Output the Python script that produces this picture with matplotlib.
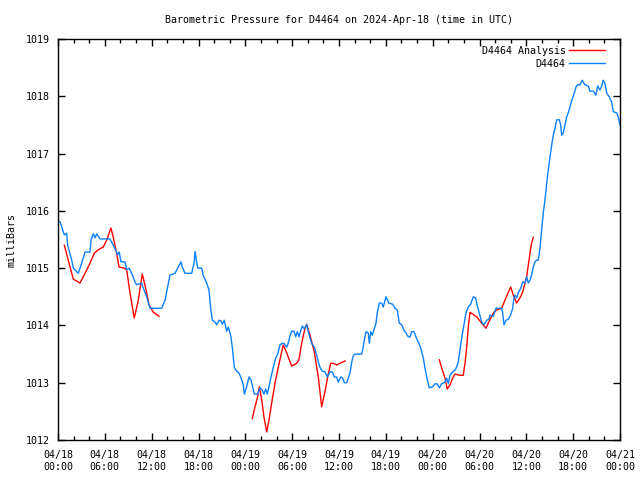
import matplotlib
matplotlib.use("Agg")
import matplotlib.pyplot as plt
import numpy as np

# hours since 2024-04-18 00:00 UTC, pressure in mb
obs_hours = [0.0, 0.26, 0.81, 1.11, 1.24, 1.76, 1.96, 2.60, 2.82, 3.46, 4.10, 4.23, 4.52, 4.74, 4.96,
             5.38, 6.66, 7.08, 7.52, 7.60, 7.85, 8.07, 8.58, 8.80, 9.10, 9.44, 9.86, 10.08, 10.72,
             10.93, 11.36, 11.79, 13.28, 13.71, 14.35, 14.99, 15.33, 15.76, 15.92, 16.27, 17.13,
             17.46, 17.55, 17.90, 18.41, 18.58, 19.05, 19.34, 19.56, 19.77, 20.11, 20.33, 20.63,
             20.88, 21.05, 21.30, 21.61, 21.82, 22.12, 22.33, 22.59, 22.89, 23.19, 23.41, 23.74,
             23.87, 24.17, 24.47, 24.72, 24.94, 25.15, 25.58, 25.88, 26.17, 26.39, 26.61, 26.81,
             27.03, 27.29, 27.58, 27.89, 28.15, 28.44, 28.73, 28.99, 29.30, 29.50, 29.72, 29.94,
             30.23, 30.45, 30.66, 30.87, 31.13, 31.30, 31.55, 31.86, 32.07, 32.28, 32.50, 32.83,
             33.14, 33.35, 33.56, 33.86, 34.20, 34.50, 34.85, 35.14, 35.40, 35.70, 35.91, 36.22,
             36.47, 36.68, 36.98, 37.19, 37.41, 37.63, 37.83, 38.05, 38.91, 39.03, 39.20, 39.46,
             39.75, 39.88, 40.06, 40.26, 40.52, 40.74, 40.90, 41.16, 41.47, 41.67, 42.02, 42.40,
             42.88, 43.17, 43.47, 43.72, 44.03, 44.32, 44.58, 44.88, 45.09, 45.31, 45.61, 45.86,
             46.16, 46.46, 46.80, 47.01, 47.31, 47.57, 48.00, 48.30, 48.59, 48.85, 49.15, 49.58,
             49.79, 50.00, 50.22, 50.56, 50.86, 51.06, 51.28, 51.50, 51.72, 52.01, 52.27, 52.56,
             52.87, 53.20, 53.51, 53.72, 53.97, 54.28, 54.57, 54.92, 55.21, 55.34, 55.77, 56.11,
             56.84, 56.97, 57.14, 57.39, 57.69, 57.99, 58.25, 58.42, 58.55, 58.76, 58.97, 59.28,
             59.53, 59.83, 60.04, 60.25, 60.47, 60.68, 60.89, 61.11, 61.33, 61.53, 61.75, 61.96,
             62.17, 62.39, 62.61, 62.81, 63.03, 63.25, 63.45, 63.67, 63.89, 64.22, 64.40, 64.53,
             64.73, 64.95, 65.17, 65.37, 65.59, 65.81, 66.01, 66.36, 66.53, 66.87, 67.16, 67.51,
             67.93, 68.15, 68.58, 68.92, 69.14, 69.43, 69.65, 69.85, 70.07, 70.29, 70.62, 70.93,
             71.14, 71.57, 71.78, 72.00]
obs_mb = [1015.81, 1015.81, 1015.58, 1015.61, 1015.40, 1015.14, 1015.00, 1014.91, 1015.00, 1015.28,
          1015.28, 1015.49, 1015.60, 1015.53, 1015.60, 1015.51, 1015.51, 1015.40, 1015.28, 1015.23,
          1015.28, 1015.11, 1015.11, 1014.97, 1015.00, 1014.91, 1014.76, 1014.71, 1014.74, 1014.65,
          1014.50, 1014.30, 1014.30, 1014.44, 1014.88, 1014.91, 1015.00, 1015.11, 1015.02, 1014.91,
          1014.91, 1015.11, 1015.29, 1015.00, 1015.00, 1014.88, 1014.74, 1014.62, 1014.30, 1014.09,
          1014.06, 1014.01, 1014.09, 1014.08, 1014.02, 1014.09, 1013.90, 1013.97, 1013.83, 1013.62,
          1013.27, 1013.20, 1013.17, 1013.10, 1012.96, 1012.80, 1012.93, 1013.10, 1013.05, 1012.93,
          1012.80, 1012.80, 1012.91, 1012.87, 1012.80, 1012.89, 1012.80, 1012.93, 1013.10, 1013.27,
          1013.43, 1013.50, 1013.66, 1013.69, 1013.68, 1013.62, 1013.69, 1013.82, 1013.90, 1013.90,
          1013.80, 1013.89, 1013.80, 1013.92, 1013.99, 1013.94, 1014.01, 1013.89, 1013.78, 1013.69,
          1013.62, 1013.48, 1013.36, 1013.27, 1013.20, 1013.19, 1013.10, 1013.19, 1013.19, 1013.10,
          1013.10, 1013.01, 1013.10, 1013.08, 1013.00, 1013.00, 1013.08, 1013.17, 1013.36, 1013.47,
          1013.50, 1013.50, 1013.57, 1013.71, 1013.89, 1013.87, 1013.69, 1013.89, 1013.83, 1013.94,
          1014.04, 1014.22, 1014.39, 1014.39, 1014.32, 1014.50, 1014.39, 1014.37, 1014.30, 1014.27,
          1014.04, 1014.01, 1013.92, 1013.87, 1013.80, 1013.80, 1013.89, 1013.89, 1013.80, 1013.71,
          1013.61, 1013.43, 1013.26, 1013.05, 1012.91, 1012.93, 1012.98, 1012.98, 1012.91, 1012.98,
          1013.01, 1013.08, 1012.99, 1013.13, 1013.19, 1013.22, 1013.27, 1013.36, 1013.57, 1013.78,
          1014.01, 1014.22, 1014.32, 1014.37, 1014.50, 1014.48, 1014.34, 1014.22, 1014.06, 1014.01,
          1014.09, 1014.11, 1014.18, 1014.16, 1014.30, 1014.30, 1014.22, 1014.01, 1014.09, 1014.11,
          1014.18, 1014.30, 1014.50, 1014.53, 1014.48, 1014.57, 1014.65, 1014.76, 1014.74, 1014.85,
          1014.74, 1014.79, 1014.88, 1015.02, 1015.11, 1015.14, 1015.14, 1015.35, 1015.67, 1015.96,
          1016.19, 1016.48, 1016.71, 1016.94, 1017.15, 1017.32, 1017.44, 1017.59, 1017.59, 1017.50,
          1017.32, 1017.36, 1017.50, 1017.64, 1017.71, 1017.81, 1017.93, 1018.00, 1018.16, 1018.20,
          1018.20, 1018.28, 1018.20, 1018.18, 1018.09, 1018.09, 1018.02, 1018.18, 1018.11, 1018.18,
          1018.28, 1018.23, 1018.06, 1017.99, 1017.90, 1017.73, 1017.71, 1017.64, 1017.50]

# analysis series, NaN marks the gaps
ana_hours = [0.81, 1.54, 1.96, 2.82, 3.24, 3.88, 4.65, 5.16, 5.80, 6.24, 6.79, 7.08, 7.52, 7.81,
             8.49, 8.80, 9.22, 9.77, 10.29, 10.80, 11.36, 11.66, 12.21, 12.94, 18.9,
             24.89, 25.24, 25.53, 25.79, 26.10, 26.39, 26.74, 27.03, 27.38, 27.80, 28.22, 28.66,
             28.86, 29.30, 29.94, 30.58, 30.87, 31.22, 31.64, 31.86, 32.28, 32.83, 33.35, 33.78,
             34.20, 34.55, 34.93, 35.27, 35.70, 36.13, 36.77, 42.8,
             48.85, 49.15, 49.58, 49.87, 50.22, 50.56, 50.86, 51.50, 51.92, 52.14, 52.36, 52.56,
             52.78, 53.64, 54.28, 54.83, 55.12, 55.56, 55.85, 56.20, 56.84, 57.26, 57.69, 57.99,
             58.33, 58.76, 59.18, 59.53, 59.83, 60.04, 60.25, 60.47, 60.68, 60.89]
ana_mb = [1015.40, 1015.02, 1014.81, 1014.74, 1014.85, 1015.02, 1015.26, 1015.32, 1015.37, 1015.49,
          1015.70, 1015.54, 1015.26, 1015.02, 1015.00, 1014.97, 1014.57, 1014.13, 1014.44, 1014.90,
          1014.57, 1014.36, 1014.23, 1014.16, np.nan,
          1012.37, 1012.58, 1012.73, 1012.93, 1012.70, 1012.40, 1012.14, 1012.35, 1012.65, 1012.99,
          1013.27, 1013.54, 1013.66, 1013.52, 1013.29, 1013.34, 1013.40, 1013.69, 1013.95, 1014.02,
          1013.83, 1013.54, 1013.10, 1012.58, 1012.84, 1013.10, 1013.34, 1013.34, 1013.31, 1013.34,
          1013.38, np.nan,
          1013.40, 1013.26, 1013.08, 1012.89, 1012.96, 1013.08, 1013.15, 1013.13, 1013.13, 1013.34,
          1013.62, 1013.97, 1014.23, 1014.15, 1014.04, 1013.95, 1014.04, 1014.16, 1014.23, 1014.27,
          1014.30, 1014.44, 1014.58, 1014.67, 1014.53, 1014.39, 1014.48, 1014.58, 1014.74, 1014.85,
          1015.05, 1015.26, 1015.44, 1015.54]

tick_hours = list(range(0, 73, 6))
tick_labels = ["04/18\n00:00", "04/18\n06:00", "04/18\n12:00", "04/18\n18:00",
               "04/19\n00:00", "04/19\n06:00", "04/19\n12:00", "04/19\n18:00",
               "04/20\n00:00", "04/20\n06:00", "04/20\n12:00", "04/20\n18:00",
               "04/21\n00:00"]

plt.rcParams['font.family'] = ['DejaVu Sans Mono']
plt.rcParams['font.size'] = 7.2

fig = plt.figure(figsize=(6.4, 4.8), dpi=100)
ax = fig.add_axes([58/640, 40/480, 562/640, 401/480])

ax.plot(ana_hours, ana_mb, color='#ff0000', lw=1, label='D4464 Analysis')
ax.plot(obs_hours, obs_mb, color='#0a80ff', lw=1, label='D4464')

ax.set_xlim(0, 72)
ax.set_ylim(1012, 1019)
ax.set_xticks(tick_hours)
ax.set_xticklabels(tick_labels, linespacing=1.3)
ax.set_xticks(range(0, 73, 2), minor=True)
ax.set_yticks(range(1012, 1020))
ax.tick_params(direction='in', top=True, right=True, length=5, width=1, pad=7)
ax.tick_params(which='minor', direction='in', top=True, bottom=True, length=3, width=1)
ax.tick_params(axis='y', pad=6)
for s in ax.spines.values():
    s.set_linewidth(1)

ax.legend(loc='upper right', frameon=False, markerfirst=False, handlelength=3.6,
          handletextpad=0.3, labelspacing=0.3, borderaxespad=0.3, bbox_to_anchor=(0.985, 1.0))

fig.text(339/640, 1 - 20/480, "Barometric Pressure for D4464 on 2024-Apr-18 (time in UTC)",
         ha='center', va='center')
fig.text(12/640, 0.5, "milliBars", rotation=90, ha='center', va='center')

fig.savefig("out.png", dpi=100)
